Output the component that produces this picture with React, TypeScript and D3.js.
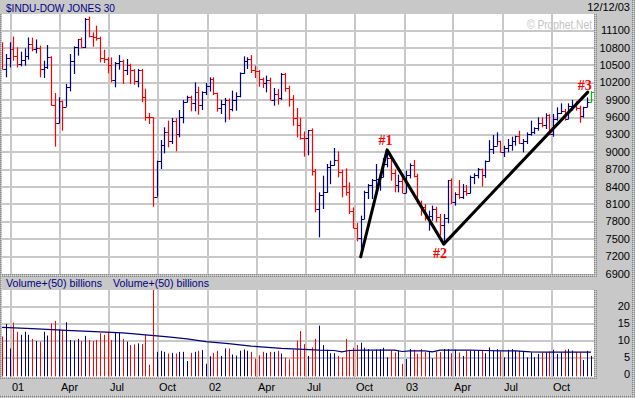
import React from "react";
import * as d3 from "d3";

const W = 635;
const H = 398;

const RED = "#ff0000";
const NAVY = "#000080";
const GREEN = "#00c000";
const GRID = "#c8c8c8";
const PANEL = "#c8c8c8";
const FONT = "'Liberation Sans', Arial, sans-serif";

// weekly bars, week ending on Friday
const firstWeek = new Date(2000, 11, 15);
const lastWeek = new Date(2003, 11, 12);

const opens = [
  10712, 10434, 10635, 10787, 10662, 10525, 10587, 10659, 10864, 10781,
  10799, 10441, 10466, 10644, 9823, 9504, 9879, 9791, 10127, 10579,
  10810, 10951, 10821, 11301, 11005, 10990, 10977, 10623, 10604, 10502,
  10252, 10539, 10577, 10417, 10512, 10416, 10240, 10423, 9950, 9606,
  9605, 8236, 8848, 9120, 9345, 9204, 9545, 9323, 9608, 9867,
  9959, 9852, 10049, 9812, 10035, 10137, 10260, 10017, 9771, 9840,
  9907, 9745, 9903, 9969, 10369, 10573, 10608, 10427, 10404, 10271,
  10191, 10257, 9911, 10006, 9939, 10353, 10104, 9925, 9590, 9474,
  9253, 9243, 9380, 8684, 8019, 8264, 8313, 8745, 8778, 8872,
  8664, 8427, 8312, 7986, 7701, 7528, 7850, 8322, 8444, 8517,
  8537, 8579, 8805, 8896, 8645, 8433, 8511, 8303, 8601, 8785,
  8587, 8131, 8053, 7864, 7909, 8018, 7891, 7740, 7859, 8522,
  8145, 8277, 8221, 8337, 8306, 8582, 8604, 8714, 8601, 8850,
  9062, 9117, 9200, 9011, 9070, 9119, 9188, 9284, 9153, 9191,
  9321, 9348, 9415, 9503, 9471, 9644, 9313, 9572, 9674, 9721,
  9582, 9801, 9809, 9768, 9629, 9782, 9862,
];

const highs = [
  10899, 10698, 10900, 11000, 10813, 10738, 10795, 10983, 10980, 10950,
  10841, 10582, 10853, 10660, 10024, 9950, 9892, 10180, 10698, 10830,
  10956, 10985, 11319, 11342, 11072, 11187, 10997, 10772, 10640, 10640,
  10560, 10680, 10600, 10611, 10530, 10439, 10439, 10440, 10100, 9679,
  9605, 8856, 9213, 9432, 9547, 9593, 9590, 9731, 9904, 9978,
  9978, 10208, 10134, 10053, 10197, 10295, 10295, 10030, 9904, 9938,
  9930, 10065, 10036, 10380, 10657, 10640, 10680, 10496, 10420, 10290,
  10324, 10290, 10111, 10093, 10370, 10370, 10150, 9990, 9765, 9600,
  9360, 9386, 9414, 8712, 8310, 8597, 8799, 8856, 9075, 9017,
  8700, 8724, 8482, 8050, 7780, 7907, 8338, 8453, 8540, 8799,
  8650, 8900, 9043, 8943, 8700, 8615, 8626, 8684, 8810, 8868,
  8630, 8166, 8108, 7993, 8080, 8062, 7936, 7936, 8523, 8550,
  8310, 8523, 8453, 8436, 8600, 8640, 8730, 8720, 8860, 9210,
  9300, 9345, 9201, 9115, 9230, 9270, 9288, 9374, 9230, 9345,
  9547, 9432, 9605, 9605, 9674, 9660, 9662, 9777, 9846, 9748,
  9846, 9904, 9881, 9806, 9788, 9950, 10057,
];

const lows = [
  10434, 10295, 10467, 10582, 10467, 10485, 10496, 10600, 10744, 10709,
  10295, 10283, 10440, 9806, 9098, 9501, 9374, 9788, 10053, 10352,
  10669, 10795, 10801, 10985, 10824, 10928, 10554, 10542, 10364, 10208,
  10122, 10427, 10180, 10335, 10180, 10168, 10122, 9863, 9547, 9489,
  8062, 8235, 8712, 8983, 9086, 9144, 9017, 9260, 9500, 9863,
  9708, 9708, 9650, 9731, 9990, 10050, 9990, 9702, 9662, 9518,
  9564, 9708, 9719, 9950, 10352, 10439, 10370, 10283, 10134, 10111,
  10036, 9904, 9806, 9823, 9904, 10047, 9788, 9460, 9259, 9220,
  8926, 8950, 8600, 7965, 7533, 8022, 8300, 8450, 8770, 8568,
  8223, 8252, 7936, 7690, 7464, 7197, 7849, 8194, 8194, 8281,
  8338, 8570, 8741, 8511, 8310, 8310, 8298, 8298, 8550, 8568,
  8108, 7907, 7821, 7648, 7821, 7792, 7562, 7416, 7775, 8108,
  8080, 8194, 8194, 8250, 8290, 8450, 8550, 8410, 8560, 8840,
  8971, 9115, 9000, 8920, 9000, 9030, 9115, 9144, 9000, 9144,
  9288, 9316, 9374, 9432, 9403, 9300, 9270, 9547, 9662, 9547,
  9570, 9720, 9720, 9510, 9600, 9780, 9860,
];

const closes = [
  10434, 10635, 10787, 10662, 10525, 10587, 10659, 10864, 10781, 10799,
  10441, 10466, 10644, 9823, 9504, 9879, 9791, 10127, 10579, 10810,
  10951, 10821, 11301, 11005, 10990, 10977, 10623, 10604, 10502, 10252,
  10539, 10577, 10417, 10512, 10416, 10240, 10423, 9950, 9606, 9605,
  8236, 8848, 9120, 9345, 9204, 9545, 9323, 9608, 9867, 9959,
  9852, 10049, 9812, 10035, 10137, 10260, 10017, 9771, 9840, 9907,
  9745, 9903, 9969, 10369, 10573, 10608, 10427, 10404, 10271, 10191,
  10257, 9911, 10006, 9939, 10353, 10104, 9925, 9590, 9474, 9253,
  9243, 9380, 8684, 8019, 8264, 8313, 8745, 8778, 8872, 8664,
  8427, 8312, 7986, 7701, 7528, 7850, 8322, 8444, 8517, 8537,
  8579, 8805, 8896, 8645, 8433, 8511, 8303, 8601, 8785, 8587,
  8131, 8053, 7864, 7909, 8018, 7891, 7740, 7859, 8522, 8145,
  8277, 8221, 8337, 8306, 8582, 8604, 8714, 8601, 8850, 9062,
  9117, 9200, 9011, 9070, 9119, 9188, 9284, 9153, 9191, 9321,
  9348, 9415, 9503, 9471, 9644, 9313, 9572, 9674, 9721, 9582,
  9801, 9809, 9768, 9629, 9782, 9862, 10042,
];

// weekly volume, billions
const volumes = [
  11.4, 15.1, 7.9, 15.5, 12.8, 11.9, 12.8, 11.9, 10.7, 10.1,
  9.9, 12.8, 11.7, 15.3, 16.0, 13.5, 13.3, 15.6, 10.4, 10.2,
  10.7, 10.1, 11.6, 10.4, 10.1, 10.4, 12.4, 11.9, 12.8, 10.4,
  12.4, 12.4, 10.7, 9.9, 8.9, 9.1, 9.4, 9.2, 11.9, 3.1,
  26.0, 6.9, 7.2, 6.9, 6.4, 6.6, 6.4, 6.9, 6.9, 4.2,
  6.6, 6.9, 7.2, 7.4, 3.4, 5.6, 6.6, 7.2, 5.7, 7.9,
  7.9, 6.1, 5.8, 7.2, 7.6, 7.2, 6.9, 4.9, 5.9, 6.9,
  6.6, 6.9, 6.9, 7.2, 6.4, 5.2, 4.7, 7.6, 10.2, 13.0,
  9.2, 5.7, 8.2, 10.7, 14.6, 8.9, 7.5, 6.5, 6.5, 5.7,
  5.3, 10.7, 7.5, 8.1, 8.9, 9.6, 8.1, 7.7, 7.2, 7.6,
  7.7, 8.1, 5.3, 7.3, 6.7, 7.2, 3.3, 4.8, 7.7, 7.5,
  6.3, 7.7, 6.8, 7.0, 5.0, 7.0, 6.8, 7.7, 7.7, 6.5,
  7.5, 6.7, 5.7, 7.3, 7.3, 7.3, 7.3, 7.3, 6.5, 8.2,
  7.2, 7.7, 7.0, 5.3, 7.5, 7.7, 7.2, 7.2, 7.0, 5.3,
  6.7, 5.3, 6.3, 6.7, 6.7, 7.0, 7.5, 6.3, 6.7, 7.5,
  7.7, 7.3, 6.8, 6.7, 4.5, 7.2, 5.7,
];

// 50-week volume average, read at these bar numbers
const avgWeek = [0, 8, 17, 26, 32, 38, 44, 49, 54, 60, 66, 74, 80, 84, 88, 90, 92, 96, 100, 104, 106, 108, 112, 114, 116, 120, 124, 128, 132, 136, 140, 144, 148, 152, 156];
const avgValue = [14.1, 13.7, 13.2, 12.8, 12.5, 11.9, 11.3, 10.7, 9.9, 9.3, 8.6, 7.9, 7.6, 7.4, 7.3, 6.9, 7.3, 7.4, 7.4, 7.4, 7.0, 7.2, 7.2, 6.9, 7.4, 7.4, 7.4, 7.3, 7.2, 7.2, 6.9, 6.8, 6.8, 6.8, 6.8];

// hand-drawn trend line #0 -> #1 -> #2 -> #3
const trendDates = [new Date(2002, 9, 11), new Date(2002, 10, 29), new Date(2003, 2, 14), new Date(2003, 11, 6)];
const trendValues = [7197, 9043, 7416, 10040];
const trendLabels = ["", "#1", "#2", "#3"];

const priceTicks = [6900, 7200, 7500, 7800, 8100, 8400, 8700, 9000, 9300, 9600, 9900, 10200, 10500, 10800, 11100];
const volTicks = [0, 5, 10, 15, 20];

const weeks = d3.timeFriday.range(firstWeek, d3.timeDay.offset(lastWeek, 1));
const quarters = d3.timeMonth.every(3)!.range(new Date(2001, 0, 1), lastWeek);

const x = d3.scaleTime().domain([firstWeek, lastWeek]).range([2, 591]);
const yPrice = d3.scaleLinear().domain([6900, 11100]).range([274, 30.7]);
const yVol = d3.scaleLinear().domain([0, 20]).range([375.3, 307.3]);

const quarterLabel = (d: Date) => (d.getMonth() === 0 ? d3.timeFormat("%y")(d) : d3.timeFormat("%b")(d));

const App = () => {
  const trendLine = d3
    .line<number>()
    .x((_, i) => x(trendDates[i]))
    .y((v) => yPrice(v));
  const avgLine = d3
    .line<number>()
    .x((_, i) => x(weeks[avgWeek[i]]))
    .y((v) => yVol(v));

  const barColor = (i: number) =>
    i === weeks.length - 1 ? GREEN : closes[i] < opens[i] ? RED : NAVY;

  return (
    <svg width={W} height={H} style={{ position: "absolute", left: 0, top: 0 }} fontFamily={FONT}>
      <defs>
        <pattern id="dith" width="2" height="2" patternUnits="userSpaceOnUse">
          <rect width="2" height="2" fill="#b4b4b4" />
          <rect width="1" height="1" fill="#8a8a8a" />
          <rect x="1" y="1" width="1" height="1" fill="#dedede" />
        </pattern>
        <clipPath id="priceClip">
          <rect x={2} y={14} width={592} height={260} />
        </clipPath>
        <clipPath id="volClip">
          <rect x={2} y={290} width={592} height={87} />
        </clipPath>
      </defs>

      <rect width={W} height={H} fill={PANEL} />

      {/* title bar */}
      <text x={6} y={12} fontSize={11.5} fill={NAVY} textLength={109} lengthAdjust="spacingAndGlyphs">
        $INDU-DOW JONES 30
      </text>
      <text x={630} y={11} fontSize={11} fill="#000" textAnchor="end">
        12/12/03
      </text>

      {/* panels */}
      <rect x={2} y={14} width={592} height={260} fill="#fff" />
      <rect x={2} y={290} width={592} height={87} fill="#fff" />

      {/* grid */}
      <g stroke={GRID} strokeWidth={2}>
        {priceTicks.slice(1).map((t) => (
          <line key={t} x1={2} x2={594} y1={Math.round(yPrice(t))} y2={Math.round(yPrice(t))} />
        ))}
        {volTicks.slice(1).map((t) => (
          <line key={t} x1={2} x2={594} y1={Math.round(yVol(t))} y2={Math.round(yVol(t))} />
        ))}
        {quarters.map((q) => (
          <g key={q.getTime()}>
            <line x1={Math.round(x(q))} x2={Math.round(x(q))} y1={14} y2={274} />
            <line x1={Math.round(x(q))} x2={Math.round(x(q))} y1={290} y2={377} />
          </g>
        ))}
      </g>

      <text x={527} y={29} fontSize={12} fill="#c4c4c4" textLength={65} lengthAdjust="spacingAndGlyphs">
        © Prophet.Net
      </text>

      {/* price bars */}
      <g clipPath="url(#priceClip)">
        {weeks.map((d, i) => {
          const px = Math.round(x(d)) + 0.5;
          const yo = Math.round(yPrice(opens[i])) + 0.5;
          const yc = Math.round(yPrice(closes[i])) + 0.5;
          return (
            <g key={i} stroke={barColor(i)}>
              <line x1={px} x2={px} y1={yPrice(highs[i])} y2={yPrice(lows[i])} strokeWidth={1.2} />
              <line x1={px - 2.5} x2={px} y1={yo} y2={yo} strokeWidth={1} />
              <line x1={px} x2={px + 2.5} y1={yc} y2={yc} strokeWidth={1} />
            </g>
          );
        })}
        <path
          d={trendLine(trendValues) ?? ""}
          fill="none"
          stroke="#000"
          strokeWidth={3}
          strokeLinejoin="round"
          strokeLinecap="round"
        />
      </g>

      {trendLabels.map((lab, i) => {
        if (!lab) return null;
        const px = x(trendDates[i]);
        const py = yPrice(trendValues[i]);
        const dx = i === 1 ? -1.5 : i === 2 ? -3.7 : -3;
        const dy = i === 1 ? -5 : i === 2 ? 14 : -2.5;
        return (
          <text
            key={lab}
            x={px + dx}
            y={py + dy}
            textAnchor="middle"
            fontFamily="'Liberation Serif', 'Times New Roman', serif"
            fontWeight="bold"
            fontSize={14}
            fill={RED}
          >
            {lab}
          </text>
        );
      })}

      {/* volume */}
      <g clipPath="url(#volClip)">
        {weeks.map((d, i) => {
          const px = Math.round(x(d)) + 0.5;
          return (
            <line
              key={i}
              x1={px}
              x2={px}
              y1={yVol(0) + 1}
              y2={yVol(volumes[i])}
              stroke={i === weeks.length - 1 ? NAVY : barColor(i)}
              strokeWidth={1}
            />
          );
        })}
        <path d={avgLine(avgValue) ?? ""} fill="none" stroke={NAVY} strokeWidth={1.2} />
      </g>

      {/* borders */}
      <rect x={0} y={14} width={2} height={365} fill="url(#dith)" />
      <rect x={594} y={14} width={3} height={263} fill="url(#dith)" />
      <rect x={594} y={290} width={3} height={89} fill="url(#dith)" />
      <rect x={0} y={274} width={597} height={3} fill="url(#dith)" />
      <rect x={0} y={377} width={597} height={2} fill="url(#dith)" />
      <rect x={0} y={395} width={W} height={3} fill="url(#dith)" />
      <rect x={632} y={0} width={3} height={H} fill="url(#dith)" />

      {/* volume panel title */}
      <text x={6} y={287} fontSize={10.5} fill={NAVY} textLength={96} lengthAdjust="spacingAndGlyphs">
        Volume+(50) billions
      </text>
      <text x={113} y={287} fontSize={10.5} fill={NAVY} textLength={96} lengthAdjust="spacingAndGlyphs">
        Volume+(50) billions
      </text>

      {/* axes labels */}
      <g fontSize={11} fill="#000" textAnchor="end">
        {priceTicks.map((t) => (
          <text key={t} x={630} y={yPrice(t) + 3.5}>
            {t}
          </text>
        ))}
        {volTicks.map((t) => (
          <text key={t} x={630} y={yVol(t) + 2.5}>
            {t}
          </text>
        ))}
      </g>
      <g fontSize={11} fill="#000">
        {quarters.map((q) => (
          <text key={q.getTime()} x={Math.round(x(q)) + 1} y={391}>
            {quarterLabel(q)}
          </text>
        ))}
      </g>
    </svg>
  );
};

export default App;
